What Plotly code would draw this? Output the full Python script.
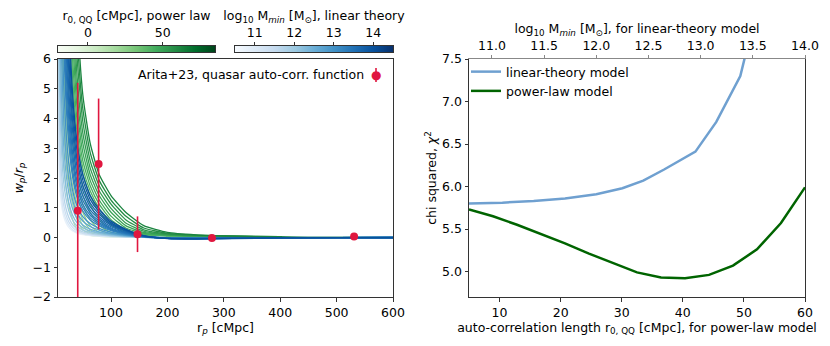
import numpy as np
import plotly.graph_objects as go
from plotly.colors import sample_colorscale, sequential

# projected separation grid the model curves are tabulated on [cMpc]
rp_grid = [5, 6.3, 7.9, 10, 12.6, 15.8, 20, 25, 32, 40, 50, 63, 79, 100, 126, 158, 200, 251, 316, 398, 501, 631]

# power-law model curves w_p/r_p, one per auto-correlation length r0 [cMpc]
green_r0 = [14, 17.5, 19.5, 22, 25, 28, 31, 35, 39, 41.5, 44, 46.5, 49, 52, 55, 58.5, 62]
N = None
green_wp = [
    [24, 15, 9.6, 6.0, 3.9, 2.58, 1.74, 1.12, 0.6, 0.26, 0.12, 0.07, 0.04, 0.02, 0.01, 0.005, 0.002, 0.001, 0, 0, 0, 0],
    [N, N, 15, 9.6, 6.0, 3.9, 2.58, 1.74, 1.12, 0.6, 0.26, 0.12, 0.07, 0.04, 0.02, 0.01, 0.005, 0.002, 0.001, 0, 0, 0],
    [N, N, 19, 12, 7.6, 4.8, 3.17, 2.12, 1.41, 0.85, 0.4, 0.17, 0.09, 0.05, 0.03, 0.014, 0.007, 0.003, 0.001, 0.001, 0, 0],
    [N, N, N, 15, 9.6, 6.0, 3.9, 2.58, 1.74, 1.12, 0.6, 0.26, 0.12, 0.07, 0.04, 0.02, 0.01, 0.005, 0.002, 0.001, 0, 0],
    [N, N, N, 19, 12, 7.6, 4.8, 3.17, 2.12, 1.41, 0.85, 0.4, 0.17, 0.09, 0.05, 0.03, 0.014, 0.007, 0.003, 0.001, 0.001, 0],
    [N, N, N, N, 15, 9.6, 6.0, 3.9, 2.58, 1.74, 1.12, 0.6, 0.26, 0.12, 0.07, 0.04, 0.02, 0.01, 0.005, 0.002, 0.001, 0],
    [N, N, N, N, 19, 12, 7.6, 4.8, 3.17, 2.12, 1.41, 0.85, 0.4, 0.17, 0.09, 0.05, 0.03, 0.014, 0.007, 0.003, 0.001, 0.001],
    [N, N, N, N, N, 15, 9.6, 6.0, 3.9, 2.58, 1.74, 1.12, 0.6, 0.26, 0.12, 0.07, 0.04, 0.02, 0.01, 0.005, 0.002, 0.001],
    [N, N, N, N, N, 19, 12, 7.6, 4.8, 3.17, 2.12, 1.41, 0.85, 0.4, 0.17, 0.09, 0.05, 0.03, 0.014, 0.007, 0.003, 0.001],
    [N, N, N, N, N, N, 13.4, 8.5, 5.37, 3.52, 2.34, 1.57, 0.98, 0.49, 0.21, 0.1, 0.06, 0.035, 0.017, 0.008, 0.004, 0.001],
    [N, N, N, N, N, N, 15, 9.6, 6.0, 3.9, 2.58, 1.74, 1.12, 0.6, 0.26, 0.12, 0.07, 0.04, 0.02, 0.01, 0.005, 0.002],
    [N, N, N, N, N, N, 16.9, 10.7, 6.75, 4.33, 2.86, 1.92, 1.26, 0.72, 0.32, 0.14, 0.08, 0.045, 0.025, 0.012, 0.006, 0.002],
    [N, N, N, N, N, N, 19, 12, 7.6, 4.8, 3.17, 2.12, 1.41, 0.85, 0.4, 0.17, 0.09, 0.05, 0.03, 0.014, 0.007, 0.003],
    [N, N, N, N, N, N, N, 13.4, 8.5, 5.37, 3.52, 2.34, 1.57, 0.98, 0.49, 0.21, 0.1, 0.06, 0.035, 0.017, 0.008, 0.004],
    [N, N, N, N, N, N, N, 15, 9.6, 6.0, 3.9, 2.58, 1.74, 1.12, 0.6, 0.26, 0.12, 0.07, 0.04, 0.02, 0.01, 0.005],
    [N, N, N, N, N, N, N, 16.9, 10.7, 6.75, 4.33, 2.86, 1.92, 1.26, 0.72, 0.32, 0.14, 0.08, 0.045, 0.025, 0.012, 0.006],
    [N, N, N, N, N, N, N, 19, 12, 7.6, 4.8, 3.17, 2.12, 1.41, 0.85, 0.4, 0.17, 0.09, 0.05, 0.03, 0.014, 0.007],
]

# linear-theory model curves w_p/r_p, one per log10 M_min
blue_logM = [10.8, 11.1, 11.4, 11.7, 12.0, 12.25, 12.5, 12.75, 13.0, 13.2, 13.3, 13.4, 13.5, 13.6, 13.7, 13.8, 13.9, 14.0]
blue_wp = [
    [4.5, 3.1, 2.16, 1.49, 1.03, 0.72, 0.5, 0.34, 0.22, 0.14, 0.095, 0.063, 0.043, 0.025, 0.013, 0.003, -0.002, -0.002, -0.002, -0.001, 0, 0],
    [5.5, 3.8, 2.64, 1.82, 1.27, 0.87, 0.61, 0.42, 0.26, 0.17, 0.12, 0.078, 0.052, 0.03, 0.015, 0.003, -0.002, -0.003, -0.002, -0.001, 0, 0],
    [7.0, 4.83, 3.36, 2.31, 1.61, 1.11, 0.77, 0.53, 0.34, 0.22, 0.15, 0.1, 0.067, 0.039, 0.02, 0.004, -0.002, -0.004, -0.002, -0.001, 0, 0],
    [9.0, 6.21, 4.32, 2.97, 2.07, 1.43, 0.99, 0.68, 0.43, 0.29, 0.19, 0.13, 0.086, 0.05, 0.025, 0.005, -0.003, -0.005, -0.003, -0.001, 0, 0],
    [12, 8.28, 5.76, 3.96, 2.76, 1.91, 1.32, 0.91, 0.58, 0.38, 0.25, 0.17, 0.11, 0.066, 0.034, 0.007, -0.004, -0.006, -0.004, -0.002, -0.001, 0],
    [15.5, 10.7, 7.44, 5.12, 3.57, 2.46, 1.71, 1.18, 0.74, 0.49, 0.33, 0.22, 0.15, 0.085, 0.043, 0.009, -0.005, -0.008, -0.005, -0.002, -0.001, 0],
    [20, 13.8, 9.6, 6.6, 4.6, 3.18, 2.2, 1.52, 0.96, 0.63, 0.42, 0.28, 0.19, 0.11, 0.056, 0.012, -0.007, -0.01, -0.007, -0.003, -0.001, 0],
    [26, 17.9, 12.5, 8.58, 5.98, 4.13, 2.86, 1.98, 1.25, 0.82, 0.55, 0.37, 0.25, 0.14, 0.073, 0.016, -0.009, -0.013, -0.009, -0.004, -0.001, 0],
    [33, 22.8, 15.8, 10.9, 7.59, 5.25, 3.63, 2.51, 1.58, 1.05, 0.70, 0.47, 0.31, 0.18, 0.092, 0.02, -0.012, -0.017, -0.012, -0.005, -0.002, 0],
    [42, 29, 20.2, 13.9, 9.66, 6.68, 4.62, 3.19, 2.02, 1.33, 0.89, 0.59, 0.40, 0.23, 0.118, 0.025, -0.015, -0.021, -0.015, -0.006, -0.002, 0],
    [47, 32.4, 22.6, 15.5, 10.8, 7.47, 5.17, 3.57, 2.26, 1.49, 1.0, 0.66, 0.45, 0.26, 0.13, 0.028, -0.016, -0.024, -0.016, -0.007, -0.002, 0],
    [N, 36.6, 25.4, 17.5, 12.2, 8.43, 5.83, 4.03, 2.54, 1.68, 1.12, 0.75, 0.50, 0.29, 0.148, 0.032, -0.019, -0.027, -0.019, -0.008, -0.003, 0],
    [N, 40.7, 28.3, 19.5, 13.6, 9.38, 6.49, 4.48, 2.83, 1.87, 1.25, 0.83, 0.56, 0.32, 0.165, 0.035, -0.021, -0.03, -0.021, -0.009, -0.003, 0],
    [N, 45, 32, 21.8, 15.2, 10.5, 7.26, 5.02, 3.17, 2.09, 1.40, 0.93, 0.63, 0.36, 0.185, 0.04, -0.023, -0.033, -0.023, -0.01, -0.003, 0],
    [N, N, 35.5, 24.4, 17, 11.8, 8.14, 5.62, 3.55, 2.35, 1.57, 1.04, 0.70, 0.41, 0.21, 0.044, -0.026, -0.037, -0.026, -0.011, -0.004, 0],
    [N, N, 39, 27, 18.9, 13.0, 9.0, 6.2, 3.94, 2.6, 1.74, 1.16, 0.78, 0.45, 0.23, 0.049, -0.029, -0.041, -0.029, -0.012, -0.004, 0],
    [N, N, N, 30, 20.9, 14.5, 10, 6.92, 4.37, 2.88, 1.93, 1.28, 0.86, 0.5, 0.255, 0.055, -0.032, -0.046, -0.032, -0.014, -0.005, 0],
    [N, N, N, 33, 23, 15.9, 11, 7.6, 4.8, 3.17, 2.12, 1.41, 0.95, 0.55, 0.28, 0.06, -0.035, -0.05, -0.035, -0.015, -0.005, 0],
]

# Arita+23 quasar auto-correlation measurements
obs_rp = [41, 78, 147, 279, 531]
obs_wp = [0.9, 2.47, 0.11, -0.02, 0.03]
obs_err = [4.3, 2.2, 0.6, 0.05, 0.05]

# chi squared of the two model families
pl_r0 = [5, 8.93, 12.86, 16.79, 20.71, 24.64, 28.57, 32.5, 36.43, 40.36, 44.29, 48.21, 52.14, 56.07, 60]
pl_chi2 = [5.73, 5.65, 5.55, 5.44, 5.33, 5.21, 5.10, 4.99, 4.93, 4.92, 4.96, 5.07, 5.26, 5.57, 5.99]
lt_logM = [10.78, 11.1, 11.4, 11.7, 12.0, 12.25, 12.45, 12.65, 12.95, 13.15, 13.38, 13.55]
lt_chi2 = [5.80, 5.81, 5.83, 5.86, 5.91, 5.98, 6.07, 6.2, 6.41, 6.76, 7.3, 8.15]

# colour-bar limits
G_LIM = [-20, 85]
B_LIM = [10.5, 14.5]

RED = "#e0173f"
FONT = dict(family="DejaVu Sans", size=12.5, color="black")
W, H = 830, 346


def px_x(a, b):
    return [a / W, b / W]


def px_y(top, bottom):
    return [1 - bottom / H, 1 - top / H]


fig = go.Figure()

gcols = sample_colorscale(sequential.Greens, [(r - G_LIM[0]) / (G_LIM[1] - G_LIM[0]) for r in green_r0])
for wp, c in zip(green_wp, gcols):
    fig.add_trace(go.Scatter(x=rp_grid, y=wp, mode="lines",
                             line=dict(color=c, width=1.3, shape="spline", smoothing=0.5),
                             showlegend=False, hoverinfo="skip"))

bcols = sample_colorscale(sequential.Blues, [(m - B_LIM[0]) / (B_LIM[1] - B_LIM[0]) for m in blue_logM])
for wp, c in zip(blue_wp, bcols):
    fig.add_trace(go.Scatter(x=rp_grid, y=wp, mode="lines",
                             line=dict(color=c, width=1.3, shape="spline", smoothing=0.5),
                             showlegend=False, hoverinfo="skip"))

fig.add_trace(go.Scatter(x=obs_rp, y=obs_wp, mode="markers", name="Arita+23, quasar auto-corr. function",
                         marker=dict(color=RED, size=8), showlegend=False,
                         error_y=dict(type="data", array=obs_err, color=RED, thickness=1.6, width=0)))

# right panel
fig.add_trace(go.Scatter(x=lt_logM, y=lt_chi2, mode="lines", name="linear-theory model",
                         line=dict(color="#6fa0d0", width=2.5), xaxis="x5", yaxis="y2"))
fig.add_trace(go.Scatter(x=pl_r0, y=pl_chi2, mode="lines", name="power-law model",
                         line=dict(color="#006400", width=2.5), xaxis="x2", yaxis="y2"))

# colour bars drawn as thin heatmaps so ticks can sit on top
gbar = np.linspace(G_LIM[0], G_LIM[1], 256)
bbar = np.linspace(B_LIM[0], B_LIM[1], 256)
fig.add_trace(go.Heatmap(x=gbar, y=[0], z=[gbar], colorscale=sequential.Greens, zmin=G_LIM[0], zmax=G_LIM[1],
                         showscale=False, xaxis="x3", yaxis="y3", hoverinfo="skip"))
fig.add_trace(go.Heatmap(x=bbar, y=[0], z=[bbar], colorscale=sequential.Blues, zmin=B_LIM[0], zmax=B_LIM[1],
                         showscale=False, xaxis="x4", yaxis="y4", hoverinfo="skip"))

ax = dict(showline=True, linecolor="#333", linewidth=1, ticks="outside", ticklen=3.5, tickwidth=1,
          tickcolor="#333", showgrid=False, zeroline=False, tickfont=FONT, title_font=FONT, automargin=False)
bar_y = dict(range=[-0.5, 0.5], showticklabels=False, ticks="", showline=True, mirror=True,
             linecolor="#333", showgrid=False, zeroline=False, automargin=False)
panel_y = px_y(59, 297)
left_x = px_x(58, 393)
right_x = px_x(469, 805)

# legend key for the measurements (marker right of the label, as in the original)
key_x, key_y = 376 / W, 1 - 75 / H

fig.update_layout(
    width=W, height=H, margin=dict(l=0, r=0, t=0, b=0),
    paper_bgcolor="white", plot_bgcolor="white", font=FONT,
    xaxis=dict(ax, domain=left_x, anchor="y", range=[6, 600], tickvals=[100, 200, 300, 400, 500, 600],
               mirror=True, title=dict(text="r<sub><i>p</i></sub> [cMpc]", standoff=0)),
    yaxis=dict(ax, domain=panel_y, anchor="x", range=[-2, 6], dtick=1, mirror=True,
               title=dict(text="<i>w<sub>p</sub></i>/<i>r<sub>p</sub></i>", standoff=6)),
    xaxis2=dict(ax, domain=right_x, anchor="y2", range=[5, 60], tickvals=[10, 20, 30, 40, 50, 60],
                title=dict(text="auto-correlation length r<sub>0, QQ</sub> [cMpc], for power-law model", standoff=0)),
    yaxis2=dict(ax, domain=panel_y, anchor="x2", range=[4.7, 7.5], tickvals=[5, 5.5, 6, 6.5, 7, 7.5],
                tickformat=".1f", mirror=True,
                title=dict(text="chi squared, <i>χ</i><sup>2</sup>", standoff=2)),
    xaxis5=dict(ax, overlaying="x2", anchor="y2", side="top", range=[10.78, 14.0],
                tickvals=[11, 11.5, 12, 12.5, 13, 13.5, 14], tickformat=".1f", linecolor="#888", tickcolor="#888",
                title=dict(text="log<sub>10</sub> M<sub><i>min</i></sub> [M<sub>⊙</sub>], for linear-theory model",
                           standoff=0)),
    xaxis3=dict(ax, domain=px_x(58, 215), anchor="y3", side="top", range=G_LIM, tickvals=[0, 50], mirror=True,
                title=dict(text="r<sub>0, QQ</sub> [cMpc], power law", standoff=0)),
    yaxis3=dict(bar_y, domain=px_y(46, 52), anchor="x3"),
    xaxis4=dict(ax, domain=px_x(235, 393), anchor="y4", side="top", range=B_LIM, tickvals=[11, 12, 13, 14],
                mirror=True,
                title=dict(text="log<sub>10</sub> M<sub><i>min</i></sub> [M<sub>⊙</sub>], linear theory", standoff=0)),
    yaxis4=dict(bar_y, domain=px_y(46, 52), anchor="x4"),
    legend=dict(x=466 / W, xanchor="left", y=1 - 57 / H, yanchor="top", bgcolor="rgba(0,0,0,0)", font=FONT,
                tracegroupgap=0),
    annotations=[
        dict(text="Arita+23, quasar auto-corr. function", xref="paper", yref="paper",
             x=366 / W, xanchor="right", y=key_y, yanchor="middle", showarrow=False, font=FONT),
        dict(text="●", xref="paper", yref="paper", x=key_x, xanchor="center", y=key_y, yanchor="middle",
             showarrow=False, font=dict(family="DejaVu Sans", size=12, color=RED)),
    ],
    shapes=[dict(type="line", xref="paper", yref="paper", x0=key_x, x1=key_x, y0=1 - 68 / H, y1=1 - 82 / H,
                 line=dict(color=RED, width=1.6))],
)

# drop the page's default body margin so the figure sits at the window corner
fig.write_html("out.html", config={"displayModeBar": False},
               post_script="document.body.style.margin='0px';")
